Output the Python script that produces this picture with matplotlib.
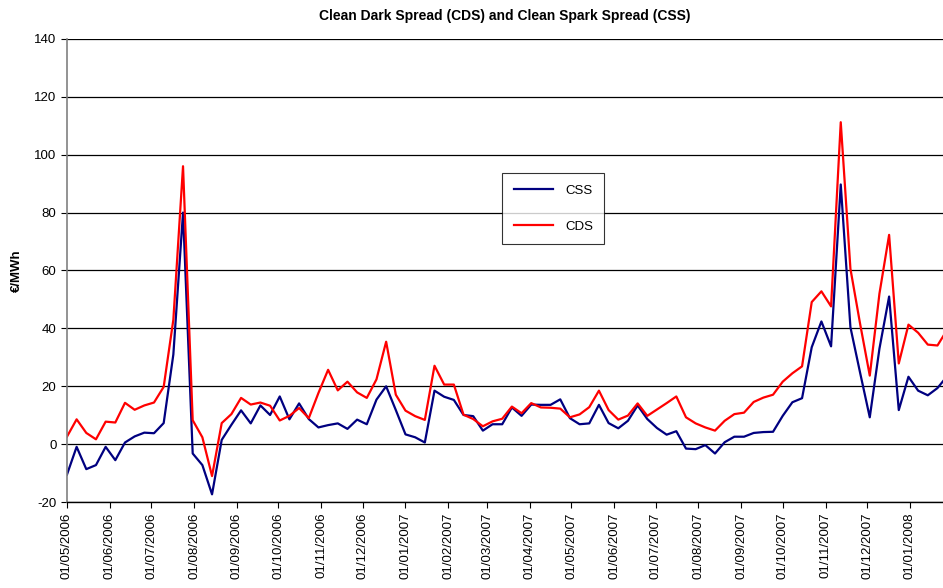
import numpy as np
import pandas as pd
import matplotlib
matplotlib.use("Agg")
import matplotlib.pyplot as plt
import matplotlib.dates as mdates

plt.rcParams['font.family'] = ['Liberation Sans', 'DejaVu Sans']
plt.rcParams['axes.unicode_minus'] = False

# weekly observations from 01/05/2006
start_date = "2006-05-01"
css = [-10.5, -0.9, -8.6, -7.2, -0.9, -5.5, 0.6, 2.7, 4.0, 3.8,
       7.3, 31.0, 80.0, -3.2, -7.2, -17.3, 1.5, 6.7, 11.7, 7.2,
       13.4, 10.1, 16.5, 8.6, 14.1, 8.7, 5.8, 6.6, 7.2, 5.3,
       8.5, 6.9, 15.4, 20.0, 11.8, 3.4, 2.4, 0.6, 18.5, 16.4,
       15.3, 10.1, 9.7, 4.7, 6.9, 6.9, 12.7, 9.8, 13.7, 13.6,
       13.6, 15.5, 9.0, 6.9, 7.2, 13.6, 7.3, 5.5, 8.1, 13.4,
       8.7, 5.6, 3.3, 4.5, -1.5, -1.7, -0.3, -3.2, 0.7, 2.6,
       2.6, 3.9, 4.2, 4.3, 9.8, 14.5, 15.9, 33.5, 42.4, 33.8,
       89.7, 40.4, 24.7, 9.3, 33.0, 51.0, 11.8, 23.3, 18.5, 16.9,
       19.4, 23.5]
cds = [2.6, 8.6, 3.9, 1.7, 7.8, 7.5, 14.3, 11.9, 13.4, 14.4,
       19.8, 43.0, 96.0, 8.3, 2.4, -11.0, 7.3, 10.4, 16.0, 13.7,
       14.4, 13.3, 8.2, 9.8, 12.5, 9.0, 17.7, 25.7, 18.6, 21.6,
       17.9, 16.0, 22.4, 35.4, 17.1, 11.6, 9.7, 8.4, 27.1, 20.6,
       20.6, 10.2, 8.7, 6.2, 7.9, 8.8, 13.0, 10.7, 14.2, 12.7,
       12.6, 12.3, 9.3, 10.3, 12.8, 18.5, 11.8, 8.5, 9.9, 14.1,
       9.8, 12.0, 14.2, 16.5, 9.3, 7.2, 5.8, 4.7, 8.1, 10.4,
       10.9, 14.6, 16.1, 17.1, 21.6, 24.5, 26.9, 49.1, 52.8, 47.6,
       111.2, 60.6, 41.6, 23.7, 52.0, 72.3, 27.9, 41.3, 38.5, 34.4,
       34.1, 39.5]

dates = pd.date_range(start_date, periods=len(css), freq="7D")

fig = plt.figure(figsize=(9.43, 5.88), dpi=100)
ax = fig.add_axes([0.071, 0.146, 0.929, 0.788])

ax.plot(dates, css, color="#000080", linewidth=1.6, label="CSS")
ax.plot(dates, cds, color="#FF0000", linewidth=1.6, label="CDS")

ax.set_xlim(pd.Timestamp(start_date), pd.Timestamp(start_date) + pd.Timedelta(days=634))
ax.set_ylim(-20, 140)
ax.set_yticks(np.arange(-20, 141, 20))
ax.yaxis.grid(True, color="black", linewidth=0.9)
ax.set_axisbelow(True)

ax.xaxis.set_major_locator(mdates.MonthLocator())
ax.xaxis.set_major_formatter(mdates.DateFormatter("%d/%m/%Y"))
plt.setp(ax.get_xticklabels(), rotation=90)
ax.tick_params(axis="both", labelsize=9.5, direction="out", length=4, color="black")

for side in ["top", "right"]:
    ax.spines[side].set_visible(False)
ax.spines["left"].set_color("#808080")
ax.spines["left"].set_linewidth(1.2)
ax.spines["bottom"].set_linewidth(1.0)

ax.set_ylabel("€/MWh", fontsize=9.5, fontweight="bold", labelpad=8)
fig.suptitle("Clean Dark Spread (CDS) and Clean Spark Spread (CSS)",
             fontsize=10, fontweight="bold", x=0.535, y=0.985)

leg = ax.legend(loc="upper left", bbox_to_anchor=(0.497, 0.71), fontsize=9.5,
                frameon=True, fancybox=False, edgecolor="black",
                labelspacing=1.8, handlelength=3.0, handletextpad=0.9,
                borderpad=0.85, borderaxespad=0)
leg.get_frame().set_linewidth(0.8)

fig.savefig("out.png", dpi=100)
